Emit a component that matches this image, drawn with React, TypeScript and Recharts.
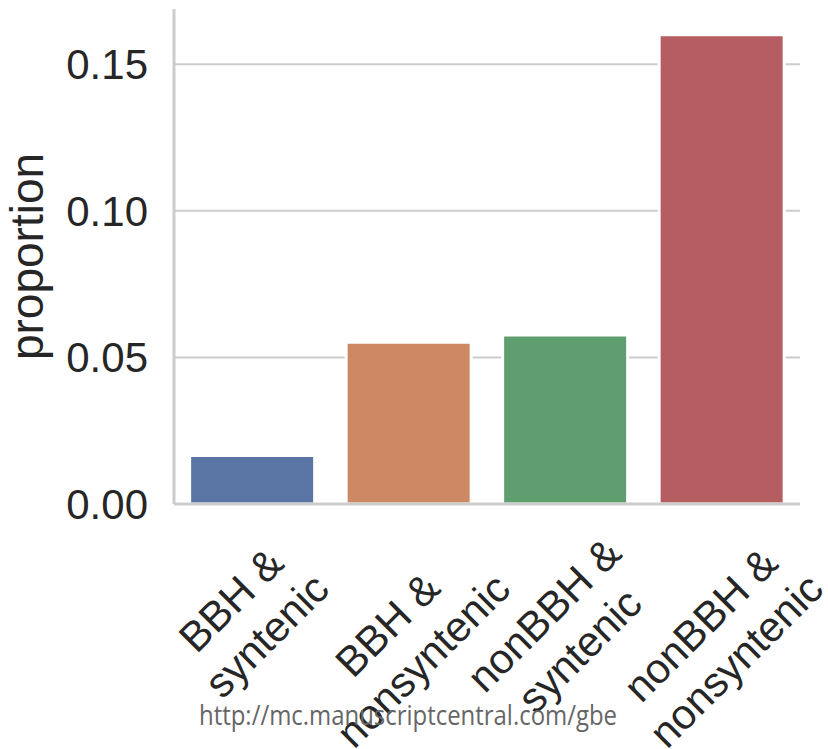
import { BarChart, Bar, XAxis, YAxis, CartesianGrid, Cell } from "recharts";

const categories = ["BBH &\nsyntenic", "BBH &\nnonsyntenic", "nonBBH &\nsyntenic", "nonBBH &\nnonsyntenic"];
const proportions = [0.0165, 0.0552, 0.0576, 0.1600];
const barColors = ["#5975a4", "#cc8963", "#5f9e6e", "#b55d60"];
const yTicks = [0, 0.05, 0.1, 0.15];

const data = categories.map((c, i) => ({ category: c, proportion: proportions[i] }));

const FONT = "'Liberation Sans', Arial, Helvetica, sans-serif";
const TEXT = "#262626";
const GRID = "#cccccc";
const FS = 42;

let ctx: CanvasRenderingContext2D | null = null;
function textWidth(s: string) {
  if (!ctx) ctx = document.createElement("canvas").getContext("2d");
  if (!ctx) return s.length * FS * 0.55;
  ctx.font = `${FS}px ${FONT}`;
  return ctx.measureText(s).width;
}

function RotatedTick({ x, y, payload }: any) {
  const lines: string[] = String(payload.value).split("\n");
  const lineH = FS * 1.2;
  const w = Math.max(...lines.map(textWidth));
  const h = (lines.length - 1) * lineH + FS * 1.15;
  const half = ((w + h) / 2) * Math.SQRT1_2;
  const cy = y + 24 + half;
  return (
    <g transform={`translate(${x - 4},${cy}) rotate(-45)`}>
      <text textAnchor="middle" fontSize={FS} fontFamily={FONT} fill={TEXT}>
        {lines.map((l, i) => (
          <tspan key={i} x={0} y={(i - (lines.length - 1) / 2) * lineH + FS * 0.36}>
            {l}
          </tspan>
        ))}
      </text>
    </g>
  );
}

export default function App() {
  return (
    <div style={{ position: "absolute", left: 0, top: 0, width: 828, height: 749, background: "#fff" }}>
      <BarChart
        width={828}
        height={749}
        data={data}
        margin={{ top: 9, right: 28, left: 0, bottom: 0 }}
        barCategoryGap="10%"
      >
        <CartesianGrid vertical={false} horizontalValues={yTicks} stroke={GRID} strokeWidth={2} />
        <XAxis
          dataKey="category"
          height={245}
          axisLine={{ stroke: GRID, strokeWidth: 3 }}
          tickLine={false}
          tickSize={0}
          tickMargin={0}
          interval={0}
          tick={<RotatedTick />}
        />
        <YAxis
          width={174}
          domain={[0, 0.1688]}
          ticks={yTicks}
          tickFormatter={(v: number) => v.toFixed(2)}
          axisLine={{ stroke: GRID, strokeWidth: 3 }}
          tickLine={false}
          tickSize={0}
          tickMargin={26}
          tick={{ fill: TEXT, fontSize: FS, fontFamily: FONT }}
          label={{
            content: ({ viewBox }: any) => {
              const cx = viewBox.x + 43;
              const cy = viewBox.y + viewBox.height / 2;
              return (
                <text
                  x={cx}
                  y={cy}
                  transform={`rotate(-90, ${cx}, ${cy})`}
                  textAnchor="middle"
                  fontSize={46}
                  fontFamily={FONT}
                  fill={TEXT}
                >
                  proportion
                </text>
              );
            },
          }}
        />
        <Bar dataKey="proportion" stroke="#ffffff" strokeWidth={3} isAnimationActive={false}>
          {data.map((d, i) => (
            <Cell key={d.category} fill={barColors[i]} />
          ))}
        </Bar>
      </BarChart>
      <svg width={828} height={749} style={{ position: "absolute", left: 0, top: 0, pointerEvents: "none" }}>
        <text
          x={199}
          y={725}
          fontSize={28}
          fontFamily="'Liberation Sans Narrow', 'Open Sans', sans-serif"
          fill="#666666"
          textLength={418}
          lengthAdjust="spacingAndGlyphs"
        >
          http://mc.manuscriptcentral.com/gbe
        </text>
      </svg>
    </div>
  );
}
